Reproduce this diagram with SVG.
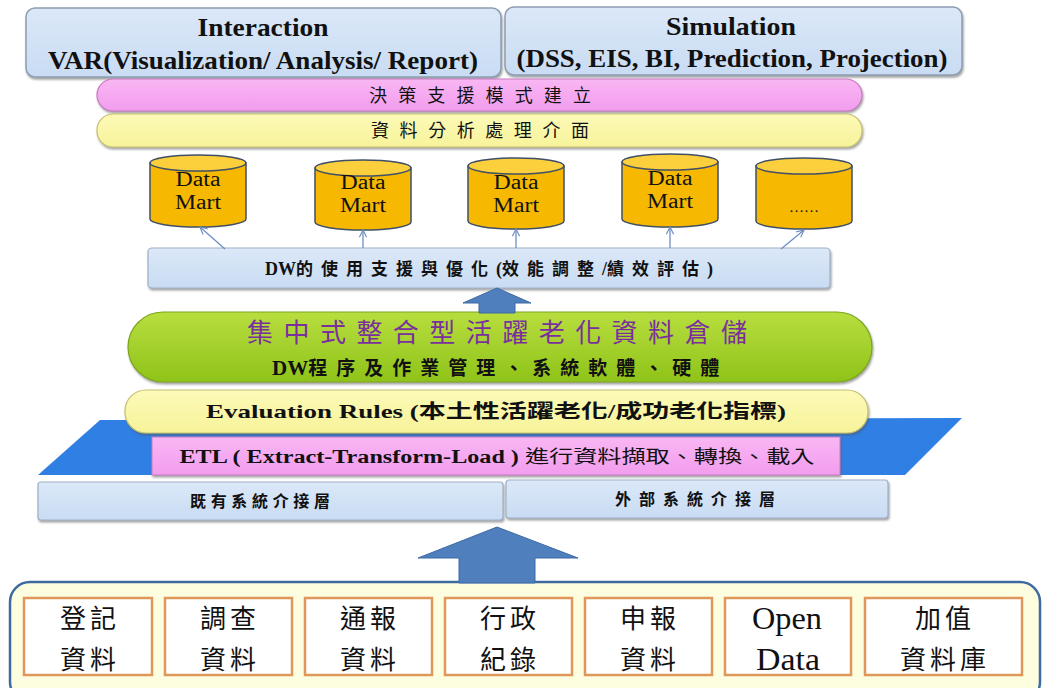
<svg xmlns="http://www.w3.org/2000/svg" width="1064" height="688" viewBox="0 0 1064 688">
<defs>
<style>
.en{font-family:"Liberation Serif","Noto Sans CJK TC",serif;font-weight:bold;fill:#111;}
.cjk{font-family:"Noto Sans CJK TC","Liberation Serif",serif;fill:#111;}
.mix{font-family:"Liberation Serif","Noto Sans CJK TC",serif;fill:#111;}
.thin{stroke:#6f8fc2;stroke-width:1.3;fill:none;}
.cylb{fill:#f6b800;stroke:#3f4f66;stroke-width:1.5;}
.cylt{fill:#fcd03c;stroke:#3f4f66;stroke-width:1.5;}
.src{fill:#fff;stroke:#e0985a;stroke-width:2.5;}
.blk{fill:#4f80bd;stroke:#3b6aa6;stroke-width:1;}
.dm{font-family:"Liberation Serif",serif;font-size:20px;fill:#111;}
.bt{font-family:"Noto Sans CJK TC","Liberation Serif",serif;font-size:26px;fill:#111;letter-spacing:4px;}
.bo{font-family:"Liberation Serif",serif;font-size:32px;fill:#111;}
</style>
<filter id="sh" x="-5%" y="-20%" width="110%" height="150%">
<feDropShadow dx="1" dy="2" stdDeviation="1.2" flood-color="#555" flood-opacity="0.55"/>
</filter>
<linearGradient id="gBlue" x1="0" y1="0" x2="0" y2="1">
<stop offset="0" stop-color="#dbe8f8"/><stop offset="1" stop-color="#c9dcf3"/>
</linearGradient>
<linearGradient id="gPink" x1="0" y1="0" x2="0" y2="1">
<stop offset="0" stop-color="#f9b6f4"/><stop offset="1" stop-color="#f29ded"/>
</linearGradient>
<linearGradient id="gYel" x1="0" y1="0" x2="0" y2="1">
<stop offset="0" stop-color="#fcfab8"/><stop offset="1" stop-color="#f7f39a"/>
</linearGradient>
<linearGradient id="gGreen" x1="0" y1="0" x2="0" y2="1">
<stop offset="0" stop-color="#b8de3e"/><stop offset="1" stop-color="#8fc31a"/>
</linearGradient>
<marker id="ah" viewBox="0 0 10 10" refX="9" refY="5" markerWidth="9" markerHeight="9" orient="auto" markerUnits="userSpaceOnUse">
<path d="M1,1 L9,5 L1,9" fill="none" stroke="#6f8fc2" stroke-width="1.3"/>
</marker>
</defs>
<rect width="1064" height="688" fill="#ffffff"/>

<g id="interaction">
<rect x="26" y="8" width="475" height="69" rx="9" fill="url(#gBlue)" stroke="#8d9db2" stroke-width="1.5" filter="url(#sh)"/>
<text class="en" x="263" y="36" font-size="25" text-anchor="middle" textLength="131" lengthAdjust="spacingAndGlyphs">Interaction</text>
<text class="en" x="263" y="69" font-size="25" text-anchor="middle" textLength="430" lengthAdjust="spacingAndGlyphs">VAR(Visualization/ Analysis/ Report)</text>
</g>
<g id="simulation">
<rect x="505" y="7" width="457" height="68" rx="9" fill="url(#gBlue)" stroke="#8d9db2" stroke-width="1.5" filter="url(#sh)"/>
<text class="en" x="731" y="35" font-size="25" text-anchor="middle" textLength="130" lengthAdjust="spacingAndGlyphs">Simulation</text>
<text class="en" x="732" y="67" font-size="25" text-anchor="middle" textLength="431" lengthAdjust="spacingAndGlyphs">(DSS, EIS, BI, Prediction, Projection)</text>
</g>

<g id="decision">
<rect x="97" y="79" width="765" height="32" rx="16" fill="url(#gPink)" stroke="#c77bc2" stroke-width="1.2" filter="url(#sh)"/>
<text class="cjk" x="480" y="102" font-size="18" text-anchor="middle" textLength="222" lengthAdjust="spacing">決策支援模式建立</text>
</g>
<g id="analysis">
<rect x="97" y="114" width="765" height="33" rx="16" fill="url(#gYel)" stroke="#c6c071" stroke-width="1.2" filter="url(#sh)"/>
<text class="cjk" x="480" y="137" font-size="18" text-anchor="middle" textLength="218" lengthAdjust="spacing">資料分析處理介面</text>
</g>

<g id="mart1">
<path class="cylb" d="M150,163 L150,219 A48,8 0 0 0 246,219 L246,163 Z"/>
<ellipse class="cylt" cx="198" cy="163" rx="48" ry="8"/>
<text class="dm" x="198" y="186" text-anchor="middle" textLength="45" lengthAdjust="spacingAndGlyphs">Data</text>
<text class="dm" x="198" y="209" text-anchor="middle" textLength="46" lengthAdjust="spacingAndGlyphs">Mart</text>
</g>
<g id="mart2">
<path class="cylb" d="M315,168 L315,222 A48,8 0 0 0 411,222 L411,168 Z"/>
<ellipse class="cylt" cx="363" cy="168" rx="48" ry="8"/>
<text class="dm" x="363" y="189" text-anchor="middle" textLength="45" lengthAdjust="spacingAndGlyphs">Data</text>
<text class="dm" x="363" y="212" text-anchor="middle" textLength="46" lengthAdjust="spacingAndGlyphs">Mart</text>
</g>
<g id="mart3">
<path class="cylb" d="M468,166 L468,221 A48,8 0 0 0 564,221 L564,166 Z"/>
<ellipse class="cylt" cx="516" cy="166" rx="48" ry="8"/>
<text class="dm" x="516" y="189" text-anchor="middle" textLength="45" lengthAdjust="spacingAndGlyphs">Data</text>
<text class="dm" x="516" y="212" text-anchor="middle" textLength="46" lengthAdjust="spacingAndGlyphs">Mart</text>
</g>
<g id="mart4">
<path class="cylb" d="M622,162 L622,219 A48,8 0 0 0 718,219 L718,162 Z"/>
<ellipse class="cylt" cx="670" cy="162" rx="48" ry="8"/>
<text class="dm" x="670" y="185" text-anchor="middle" textLength="45" lengthAdjust="spacingAndGlyphs">Data</text>
<text class="dm" x="670" y="208" text-anchor="middle" textLength="46" lengthAdjust="spacingAndGlyphs">Mart</text>
</g>
<g id="mart5">
<path class="cylb" d="M756,166 L756,221 A48,8 0 0 0 852,221 L852,166 Z"/>
<ellipse class="cylt" cx="804" cy="166" rx="48" ry="8"/>
<text class="mix" x="804" y="212" font-size="15" text-anchor="middle">……</text>
</g>

<g id="dw-support">
<rect x="148" y="248" width="682" height="40" rx="4" fill="url(#gBlue)" stroke="#9fb0c6" stroke-width="1.2" filter="url(#sh)"/>
<text x="265" y="275" font-size="17" font-weight="bold" class="cjk"><tspan style="font-family:'Liberation Serif',serif" font-size="18">DW</tspan><tspan letter-spacing="8">的使用支援與優化</tspan><tspan style="font-family:'Liberation Serif',serif" font-size="18">(</tspan><tspan letter-spacing="8">效能調整</tspan><tspan style="font-family:'Liberation Serif',serif" font-size="18">/</tspan><tspan letter-spacing="8">績效評估</tspan><tspan style="font-family:'Liberation Serif',serif" font-size="18">)</tspan></text>
</g>

<g id="warehouse">
<rect x="128" y="312" width="744" height="70" rx="35" fill="url(#gGreen)" stroke="#7da61c" stroke-width="1.2" filter="url(#sh)"/>
<text class="cjk" x="497" y="342" font-size="26" text-anchor="middle" style="fill:#7a2f9e" textLength="500" lengthAdjust="spacing">集中式整合型活躍老化資料倉儲</text>
<text x="272" y="375" font-size="19" font-weight="bold" class="cjk"><tspan style="font-family:'Liberation Serif',serif" font-size="21">DW</tspan><tspan letter-spacing="9">程序及作業管理、系統軟體、硬體</tspan></text>
</g>

<g id="etl-band">
<polygon points="100,420 962,418 905,475 38,475" fill="#2f7fe4"/>
</g>

<g id="evaluation">
<rect x="125" y="390" width="743" height="43" rx="21" fill="url(#gYel)" stroke="#c6c071" stroke-width="1.2" filter="url(#sh)"/>
<text class="mix" x="496" y="418" font-size="19" font-weight="bold" text-anchor="middle" textLength="580" lengthAdjust="spacingAndGlyphs">Evaluation Rules (本土性活躍老化/成功老化指標)</text>
</g>

<g id="etl">
<rect x="152" y="437" width="688" height="38" fill="url(#gPink)" stroke="#c77bc2" stroke-width="1" filter="url(#sh)"/>
<text class="mix" x="497" y="463" font-size="18" text-anchor="middle" textLength="635" lengthAdjust="spacingAndGlyphs"><tspan font-weight="bold">ETL ( Extract-Transform-Load )</tspan> 進行資料擷取、轉換、載入</text>
</g>

<g id="existing-if">
<rect x="38" y="482" width="465" height="38" rx="3" fill="url(#gBlue)" stroke="#9fb0c6" stroke-width="1.2" filter="url(#sh)"/>
<text class="cjk" x="260" y="507" font-size="16" font-weight="bold" text-anchor="middle" textLength="140" lengthAdjust="spacing">既有系統介接層</text>
</g>
<g id="external-if">
<rect x="506" y="480" width="382" height="38" rx="3" fill="url(#gBlue)" stroke="#9fb0c6" stroke-width="1.2" filter="url(#sh)"/>
<text class="cjk" x="695" y="505" font-size="16" font-weight="bold" text-anchor="middle" textLength="160" lengthAdjust="spacing">外部系統介接層</text>
</g>

<g id="sources">
<rect x="10" y="582" width="1030" height="120" rx="20" fill="#fdfde0" stroke="#3e6b9f" stroke-width="2.5"/>
<rect class="src" x="24" y="598" width="128" height="77"/>
<rect class="src" x="165" y="598" width="127" height="77"/>
<rect class="src" x="305" y="598" width="127" height="77"/>
<rect class="src" x="445" y="598" width="127" height="77"/>
<rect class="src" x="585" y="598" width="127" height="77"/>
<rect class="src" x="725" y="598" width="126" height="77"/>
<rect class="src" x="865" y="598" width="157" height="77"/>
<text class="bt" x="90" y="628" text-anchor="middle">登記</text><text class="bt" x="90" y="669" text-anchor="middle">資料</text>
<text class="bt" x="230" y="628" text-anchor="middle">調查</text><text class="bt" x="230" y="669" text-anchor="middle">資料</text>
<text class="bt" x="370" y="628" text-anchor="middle">通報</text><text class="bt" x="370" y="669" text-anchor="middle">資料</text>
<text class="bt" x="510" y="628" text-anchor="middle">行政</text><text class="bt" x="510" y="669" text-anchor="middle">紀錄</text>
<text class="bt" x="650" y="628" text-anchor="middle">申報</text><text class="bt" x="650" y="669" text-anchor="middle">資料</text>
<text class="bo" x="787" y="629" text-anchor="middle" textLength="70" lengthAdjust="spacingAndGlyphs">Open</text><text class="bo" x="788" y="670" text-anchor="middle" textLength="64" lengthAdjust="spacingAndGlyphs">Data</text>
<text class="bt" x="945" y="628" text-anchor="middle">加值</text><text class="bt" x="945" y="669" text-anchor="middle">資料庫</text>
</g>

<g id="connectors">
<line class="thin" x1="225" y1="249" x2="200" y2="227" marker-end="url(#ah)"/>
<line class="thin" x1="363" y1="248" x2="363" y2="230" marker-end="url(#ah)"/>
<line class="thin" x1="516" y1="248" x2="516" y2="229" marker-end="url(#ah)"/>
<line class="thin" x1="670" y1="248" x2="670" y2="227" marker-end="url(#ah)"/>
<line class="thin" x1="781" y1="249" x2="804" y2="230" marker-end="url(#ah)"/>
<polygon class="blk" points="497,288 531,303 515,303 515,313 479,313 479,303 463,303"/>
<polygon class="blk" points="497,527 578,558 535,558 535,583 459,583 459,558 418,558"/>
</g>
</svg>
